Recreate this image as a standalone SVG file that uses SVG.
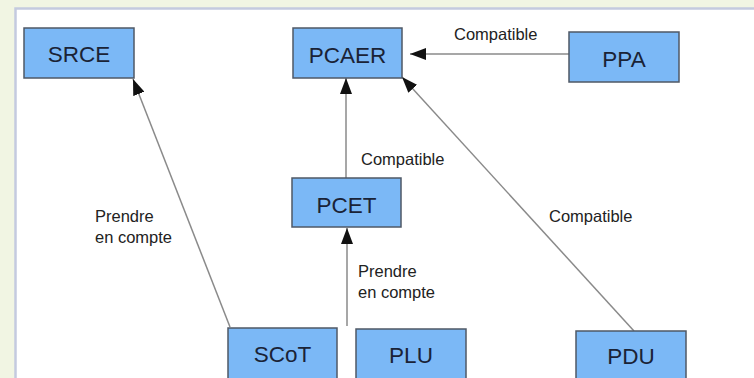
<svg xmlns="http://www.w3.org/2000/svg" width="754" height="378" viewBox="0 0 754 378">
  <style>
    .box { fill: #7bb8f6; stroke: #4f5866; stroke-width: 1.5; }
    .name { font-family: "Liberation Sans", Arial, sans-serif; font-size: 22.5px; fill: #1a2336; text-anchor: middle; }
    .lbl { font-family: "Liberation Sans", Arial, sans-serif; font-size: 16.5px; fill: #222222; }
    .edge { fill: none; stroke: #8a8a8a; stroke-width: 1.5; }
  </style>
  <defs>
    <marker id="arr" viewBox="0 0 16 12" refX="16" refY="6" markerWidth="16" markerHeight="12" markerUnits="userSpaceOnUse" orient="auto">
      <path d="M0,0 L16,6 L0,12 Z" fill="#111111"/>
    </marker>
  </defs>
  <rect x="0" y="0" width="754" height="378" fill="#f1f5e3"/>
  <rect x="15.5" y="8.5" width="745" height="380" fill="#ffffff" stroke="#c4cadf" stroke-width="2.5"/>

  <g id="connectors">
    <line class="edge" x1="569" y1="54" x2="410" y2="54" marker-end="url(#arr)"/>
    <line class="edge" x1="346" y1="178" x2="346" y2="78" marker-end="url(#arr)"/>
    <line class="edge" x1="347" y1="326" x2="347" y2="228" marker-end="url(#arr)"/>
    <line class="edge" x1="230" y1="327" x2="133" y2="79" marker-end="url(#arr)"/>
    <line class="edge" x1="634" y1="331" x2="402" y2="77" marker-end="url(#arr)"/>
    <text class="lbl" x="454" y="40">Compatible</text>
    <text class="lbl" x="361" y="165">Compatible</text>
    <text class="lbl" x="549" y="222">Compatible</text>
    <text class="lbl" x="95" y="222">Prendre</text>
    <text class="lbl" x="95" y="243">en compte</text>
    <text class="lbl" x="358" y="277">Prendre</text>
    <text class="lbl" x="358" y="298">en compte</text>
  </g>

  <g id="SRCE">
    <rect class="box" x="24" y="28" width="110" height="50"/>
    <text class="name" x="79" y="62">SRCE</text>
  </g>
  <g id="PCAER">
    <rect class="box" x="293" y="28" width="109" height="50"/>
    <text class="name" x="347.5" y="63">PCAER</text>
  </g>
  <g id="PPA">
    <rect class="box" x="569" y="32" width="110" height="50"/>
    <text class="name" x="624" y="67">PPA</text>
  </g>
  <g id="PCET">
    <rect class="box" x="292" y="178" width="109" height="49"/>
    <text class="name" x="346.5" y="213">PCET</text>
  </g>
  <g id="SCoT">
    <rect class="box" x="228" y="328" width="109" height="62"/>
    <text class="name" x="282.5" y="362">SCoT</text>
  </g>
  <g id="PLU">
    <rect class="box" x="356" y="329" width="110" height="62"/>
    <text class="name" x="411" y="363">PLU</text>
  </g>
  <g id="PDU">
    <rect class="box" x="576" y="331" width="110" height="62"/>
    <text class="name" x="631" y="364">PDU</text>
  </g>
</svg>
